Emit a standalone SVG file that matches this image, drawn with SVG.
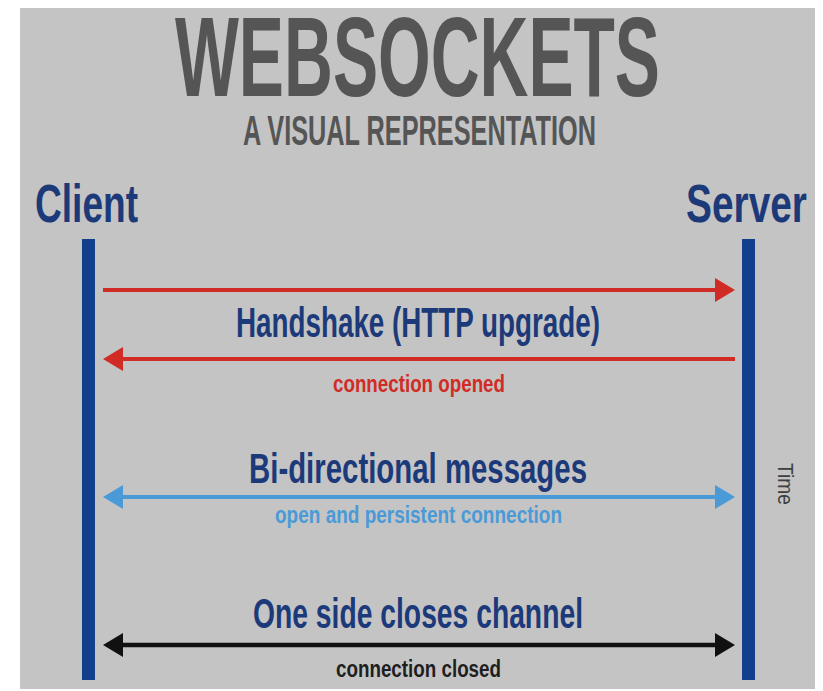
<svg xmlns="http://www.w3.org/2000/svg" width="823" height="691" viewBox="0 0 823 691">
<style>
.t{font-family:"Liberation Sans Narrow","Liberation Sans",Arial,sans-serif;font-weight:bold}
.title{fill:#555555}
.navy{fill:#1c3a7a}
.red{fill:#d12b25}
.blue{fill:#4a9ad8}
.black{fill:#1e1e1e}
.bar{fill:#123f8c}
</style>
<defs>
<marker id="hr" viewBox="0 -12 20 24" refX="0" refY="0" markerWidth="20" markerHeight="24" markerUnits="userSpaceOnUse" orient="auto-start-reverse"><path d="M0,-12 L20,0 L0,12 z" fill="#d12b25"/></marker>
<marker id="hb" viewBox="0 -12 20 24" refX="0" refY="0" markerWidth="20" markerHeight="24" markerUnits="userSpaceOnUse" orient="auto-start-reverse"><path d="M0,-12 L20,0 L0,12 z" fill="#4a9ad8"/></marker>
<marker id="hk" viewBox="0 -12 20 24" refX="0" refY="0" markerWidth="20" markerHeight="24" markerUnits="userSpaceOnUse" orient="auto-start-reverse"><path d="M0,-12 L20,0 L0,12 z" fill="#111111"/></marker>
</defs>
<rect x="0" y="0" width="823" height="691" fill="#ffffff"/>
<rect x="20" y="8" width="795" height="681" fill="#c4c4c4"/>
<g id="title">
<text class="t title" x="175" y="96" font-size="114" textLength="485" lengthAdjust="spacingAndGlyphs">WEBSOCKETS</text>
<text class="t title" x="243" y="145" font-size="43" textLength="353" lengthAdjust="spacingAndGlyphs">A VISUAL REPRESENTATION</text>
</g>
<g id="client">
<text class="t navy" x="35" y="222" font-size="54" textLength="103" lengthAdjust="spacingAndGlyphs">Client</text>
<rect class="bar" x="82" y="239" width="13" height="441"/>
</g>
<g id="server">
<text class="t navy" x="686" y="222" font-size="54" textLength="121" lengthAdjust="spacingAndGlyphs">Server</text>
<rect class="bar" x="742" y="239" width="13" height="441"/>
</g>
<g id="time">
<text x="785" y="484" font-family="Liberation Sans Narrow, Liberation Sans, Arial, sans-serif" font-size="22" fill="#3f3f3f" text-anchor="middle" dominant-baseline="central" textLength="42" lengthAdjust="spacingAndGlyphs" transform="rotate(90 785 484)">Time</text>
</g>
<g id="connectors">
<line x1="103" y1="290" x2="715" y2="290" stroke="#d12b25" stroke-width="4" marker-end="url(#hr)"/>
<line x1="123" y1="359" x2="735" y2="359" stroke="#d12b25" stroke-width="4" marker-start="url(#hr)"/>
<line x1="123" y1="497" x2="715" y2="497" stroke="#4a9ad8" stroke-width="4" marker-start="url(#hb)" marker-end="url(#hb)"/>
<line x1="123" y1="645" x2="715" y2="645" stroke="#111111" stroke-width="4.5" marker-start="url(#hk)" marker-end="url(#hk)"/>
</g>
<g id="labels">
<text class="t navy" x="236" y="337" font-size="42" textLength="364" lengthAdjust="spacingAndGlyphs">Handshake (HTTP upgrade)</text>
<text class="t red" x="333" y="392" font-size="23" textLength="172" lengthAdjust="spacingAndGlyphs">connection opened</text>
<text class="t navy" x="249" y="483" font-size="42" textLength="338" lengthAdjust="spacingAndGlyphs">Bi-directional messages</text>
<text class="t blue" x="275" y="523" font-size="23" textLength="287" lengthAdjust="spacingAndGlyphs">open and persistent connection</text>
<text class="t navy" x="253" y="628" font-size="42" textLength="330" lengthAdjust="spacingAndGlyphs">One side closes channel</text>
<text class="t black" x="336" y="677" font-size="23" textLength="165" lengthAdjust="spacingAndGlyphs">connection closed</text>
</g>
</svg>
